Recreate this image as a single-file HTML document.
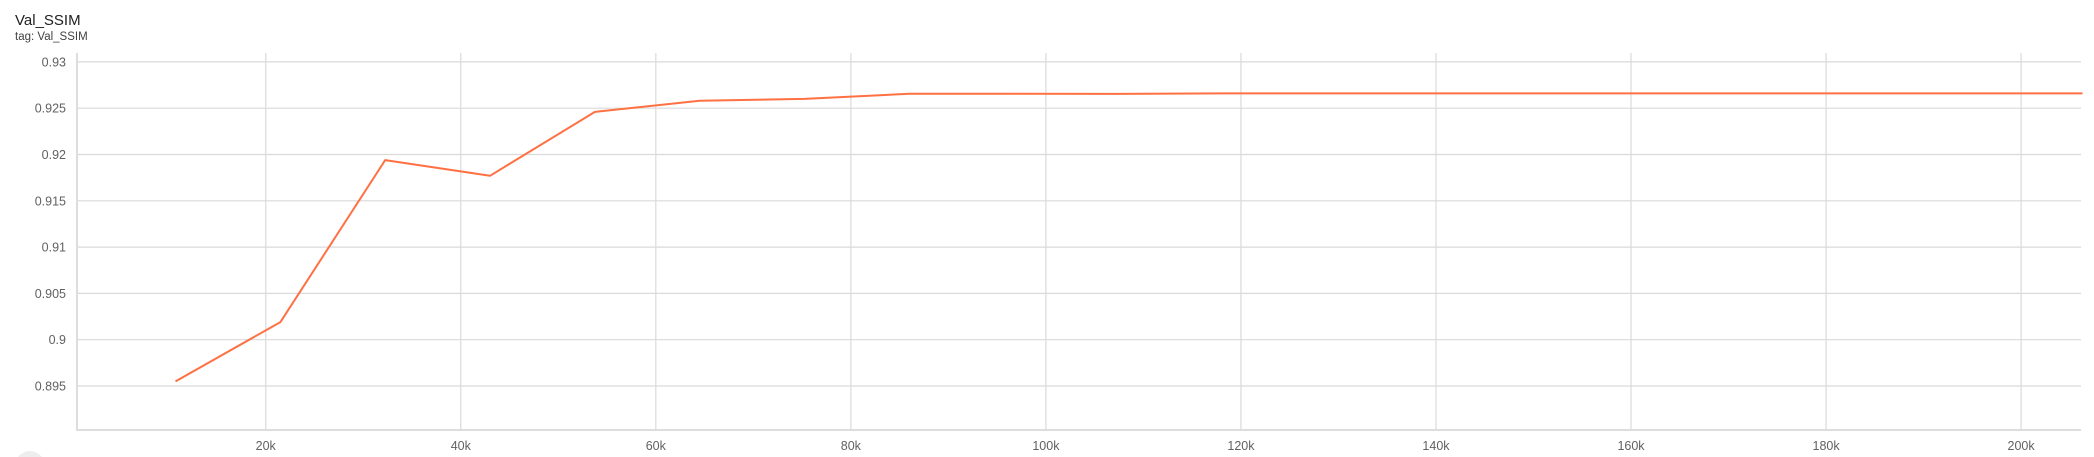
<!DOCTYPE html>
<html><head><meta charset="utf-8"><style>
html,body{margin:0;padding:0;background:#fff;width:2094px;height:457px;overflow:hidden}
svg{display:block}
text{font-family:"Liberation Sans",sans-serif}
</style></head><body>
<svg id="chart" width="2094" height="457" xmlns="http://www.w3.org/2000/svg">
<text x="15" y="25" font-size="15" fill="#212121">Val_SSIM</text>
<text x="15" y="40" font-size="11.5" fill="#424242">tag: Val_SSIM</text>
<g id="grid"></g><g id="axes"></g><g id="series"></g>
<path d="M18,457 A15,15 0 0 1 42,457 Z" fill="#eeeeee"/>
</svg>
<script>
const steps = [10750,21500,32250,43000,53750,64500,75250,86000,96750,107500,118250,129000,139750,150500,161250,172000,182750,193500,204250,206300];
const ssimValues = [0.8955,0.9019,0.9194,0.9177,0.9246,0.9258,0.9260,0.92655,0.92656,0.92654,0.92660,0.92660,0.92660,0.92660,0.92660,0.92660,0.92660,0.92660,0.92660,0.92660];
const yTicks = [0.895,0.9,0.905,0.91,0.915,0.92,0.925,0.93];
const yTickLabels = ["0.895","0.9","0.905","0.91","0.915","0.92","0.925","0.93"];
const xTicks = [20000,40000,60000,80000,100000,120000,140000,160000,180000,200000];
const xTickLabels = ["20k","40k","60k","80k","100k","120k","140k","160k","180k","200k"];

const L=77,R=2081,T=53,B=430;
const x=v=>70.7+(v/20000)*195.04;
const y=v=>386-(v-0.895)/0.005*46.3;
const NS="http://www.w3.org/2000/svg";
function mk(tag,parent,attrs){const e=document.createElementNS(NS,tag);for(const k in attrs)e.setAttribute(k,attrs[k]);parent.appendChild(e);return e;}
const grid=document.getElementById('grid'),axes=document.getElementById('axes'),series=document.getElementById('series');
yTicks.forEach((t,i)=>{
  const ln=mk('line',grid,{x1:L,x2:R,y1:y(t),y2:y(t),stroke:'#dadada','stroke-width':1.2});
  
  
  const tx=mk('text',axes,{x:66,y:y(t)+4.5,'text-anchor':'end','font-size':12.5,fill:'#616161'});
  tx.textContent=yTickLabels[i];
  
  
});
xTicks.forEach((t,i)=>{
  const ln=mk('line',grid,{x1:x(t),x2:x(t),y1:T,y2:B,stroke:'#dadada','stroke-width':1.2});
  
  
  const tx=mk('text',axes,{x:x(t),y:450,'text-anchor':'middle','font-size':12.5,fill:'#616161'});
  tx.textContent=xTickLabels[i];
  
  
});
const ya=mk('line',axes,{x1:L,x2:L,y1:T,y2:B+1,stroke:'#dddddd','stroke-width':2});


const xa=mk('line',axes,{x1:L,x2:R,y1:B,y2:B,stroke:'#dddddd','stroke-width':2});


const pts=steps.map((s,i)=>x(s).toFixed(1)+','+y(ssimValues[i]).toFixed(1)).join(' ');
const pl=mk('polyline',series,{points:pts,fill:'none',stroke:'#ff7043','stroke-width':2,'stroke-linejoin':'round'});


</script>
</body></html>
